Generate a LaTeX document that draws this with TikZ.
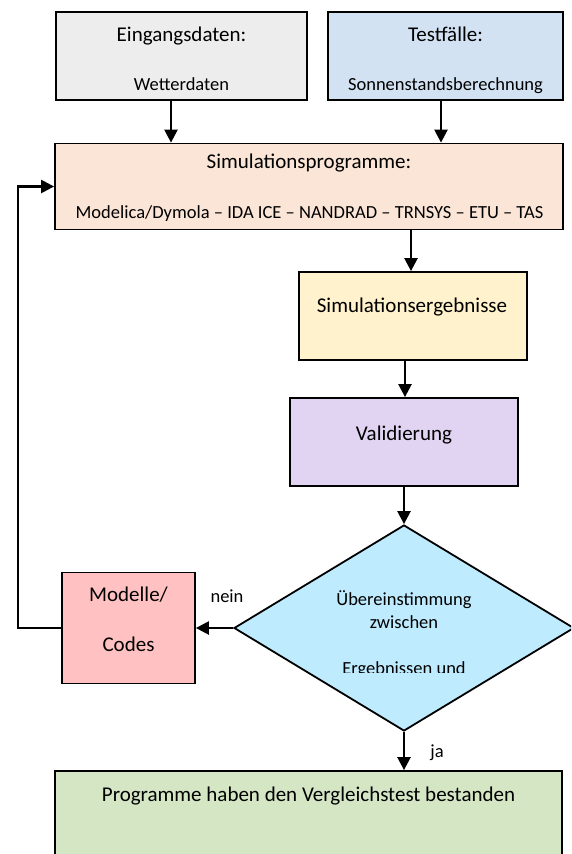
\documentclass[tikz,border=0pt]{standalone}
\usepackage{fontspec}
\setmainfont{Carlito}
\usetikzlibrary{arrows.meta,shapes.geometric}
\definecolor{cgray}{HTML}{EDEDED}
\definecolor{cblue}{HTML}{D2E2F2}
\definecolor{cpeach}{HTML}{FBE5D6}
\definecolor{cyellow}{HTML}{FFF2CC}
\definecolor{clav}{HTML}{E1D3F2}
\definecolor{ccyan}{HTML}{BFEBFE}
\definecolor{cpink}{HTML}{FFC1C1}
\definecolor{cgreen}{HTML}{D5E6C5}
\tikzset{
  box/.style={draw=black, line width=1.8pt, rectangle, inner sep=0pt},
  big/.style={anchor=base, inner sep=0pt, font=\fontsize{21}{25}\selectfont},
  small/.style={anchor=base, inner sep=0pt, font=\fontsize{18.5}{22}\selectfont},
  arr/.style={line width=2.4pt, -{Triangle[width=13pt,length=13pt]}},
  ln/.style={line width=2.4pt}
}
\begin{document}
\begin{tikzpicture}[x=1pt,y=-1pt]
\useasboundingbox (0,0) rectangle (571,854);
\clip (0,0) rectangle (571,854);
% boxes
\node[box, fill=cgray, minimum width=251pt, minimum height=88pt] (b1) at (181.5,56) {};
\node[box, fill=cblue, minimum width=235pt, minimum height=88pt] (b2) at (445.5,56) {};
\node[box, fill=cpeach, minimum width=508pt, minimum height=86pt] (b3) at (309,186.5) {};
\node[box, fill=cyellow, minimum width=228pt, minimum height=88pt] (b4) at (413,316) {};
\node[box, fill=clav, minimum width=228pt, minimum height=88pt] (b5) at (404,442) {};
\node[diamond, draw=black, line width=1.8pt, fill=ccyan, inner sep=0pt, minimum width=340pt, minimum height=206pt] (d) at (404,628) {};
\node[box, fill=cpink, minimum width=133pt, minimum height=111pt] (m) at (128.5,628) {};
\node[box, fill=cgreen, minimum width=507pt, minimum height=100pt] (g) at (308.5,821) {};
% texts
\node[big] (t1a) at (181.5,41) {Eingangsdaten:};
\node[small] (t1b) at (181.5,90) {Wetterdaten};
\node[big] (t2a) at (445.5,41) {Testfälle:};
\node[small] (t2b) at (445.5,90) {Sonnenstandsberechnung};
\node[big] (t3a) at (309,168) {Simulationsprogramme:};
\node[small] (t3b) at (309.5,218) {Modelica/Dymola – IDA ICE – NANDRAD – TRNSYS – ETU – TAS};
\node[big] (t4) at (412,312) {Simulationsergebnisse};
\node[big] (t5) at (404,440) {Validierung};
\node[small] (td1) at (404,605) {Übereinstimmung};
\node[small] (td2) at (404,628) {zwischen};
\begin{scope}
\clip (300,640) rectangle (520,672);
\node[small] (td3) at (404,674) {Ergebnissen und};
\end{scope}
\node[big] (tm1) at (128.5,601) {Modelle/};
\node[big] (tm2) at (128.5,651) {Codes};
\node[big] (tg) at (308.5,801) {Programme haben den Vergleichstest bestanden};
\node[small] (nein) at (227,602) {nein};
\node[small] (ja) at (437,757) {ja};
% connectors
\draw[arr] ([xshift=-10.5pt]b1.south) -- ([xshift=-10.5pt]b1.south |- b3.north);
\draw[arr] ([xshift=-4.5pt]b2.south) -- ([xshift=-4.5pt]b2.south |- b3.north);
\draw[arr] ([xshift=102pt]b3.south) -- ([xshift=102pt]b3.south |- b4.north);
\draw[arr] ([xshift=-8pt]b4.south) -- ([xshift=-8pt]b4.south |- b5.north);
\draw[arr] (b5.south) -- (d.north);
\draw[arr] (d.south) -- (d.south |- g.north);
\draw[arr] (d.west) -- (m.east);
\coordinate (lp) at (18,628);
\draw[arr] (m.west) -- (lp) |- (b3.west);
\end{tikzpicture}
\end{document}
